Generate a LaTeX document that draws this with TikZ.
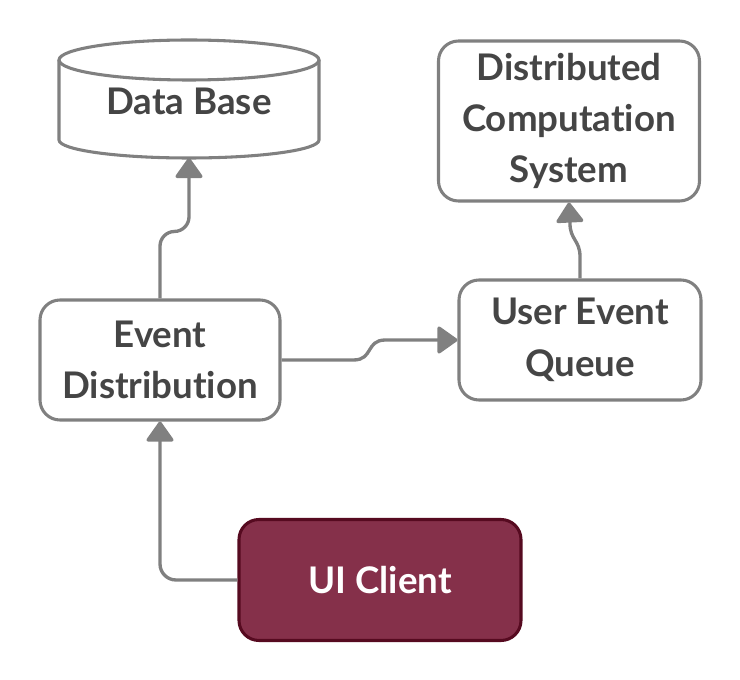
\documentclass[tikz,border=0pt]{standalone}
\usepackage{fontspec}
\setmainfont{Lato}[RawFeature=-liga]
\usetikzlibrary{arrows.meta,calc}
\definecolor{linegray}{HTML}{808080}
\definecolor{txtgray}{HTML}{454545}
\definecolor{uifill}{HTML}{85304A}
\definecolor{uiline}{HTML}{560A20}
\begin{document}
\begin{tikzpicture}[x=0.75pt,y=-0.75pt,
  box/.style={draw=linegray,line width=2.3pt,rounded corners=15pt,fill=white,
    align=center,font=\fontsize{27.5}{38.5}\selectfont\bfseries,text=txtgray,inner sep=0pt},
  arr/.style={draw=linegray,line width=2.5pt,-{Triangle[width=22pt,length=16pt,round]}}]
\useasboundingbox (0,0) rectangle (740,680);
% Data Base cylinder
\draw[draw=linegray,line width=2.3pt,fill=white] (59,60) -- (59,140) arc[start angle=180,end angle=0,x radius=130,y radius=18] -- (319,60);
\draw[draw=linegray,line width=2.3pt] (189,60) ellipse[x radius=130,y radius=20];
\node[font=\fontsize{27.5}{38.5}\selectfont\bfseries,text=txtgray] (db) at (189,101) {Data Base};
\coordinate (dbb) at (189,158);
% boxes
\node[box,minimum width=180pt,minimum height=90pt] (ed) at (160,360) {Event\\Distribution};
\node[box,minimum width=181.5pt,minimum height=90pt] (uq) at (580,340) {User Event\\Queue};
\node[box,minimum width=195.75pt,minimum height=120pt] (dcs) at (569,121) {Distributed\\Computation\\System};
\node[box,draw=uiline,fill=uifill,text=white,minimum width=211.5pt,minimum height=90.75pt] (ui) at (380,580) {UI Client};
% connectors
\draw[arr,rounded corners=11pt] (ed.north) -- ++(0,-67) -- ++(29,0) -- (dbb);
\draw[arr] (ed.east) -- ++(72,0) .. controls +(20,0) and +(-20,0) .. ($(uq.west)+(-72,0)$) -- (uq.west);
\draw[arr] (uq.north) -- ++(0,-22) .. controls +(0,-16) and +(0,16) .. ($(dcs.south)+(1,21)$) -- (dcs.south);
\draw[arr,rounded corners=12pt] (ui.west) -| (ed.south);
\end{tikzpicture}
\end{document}
